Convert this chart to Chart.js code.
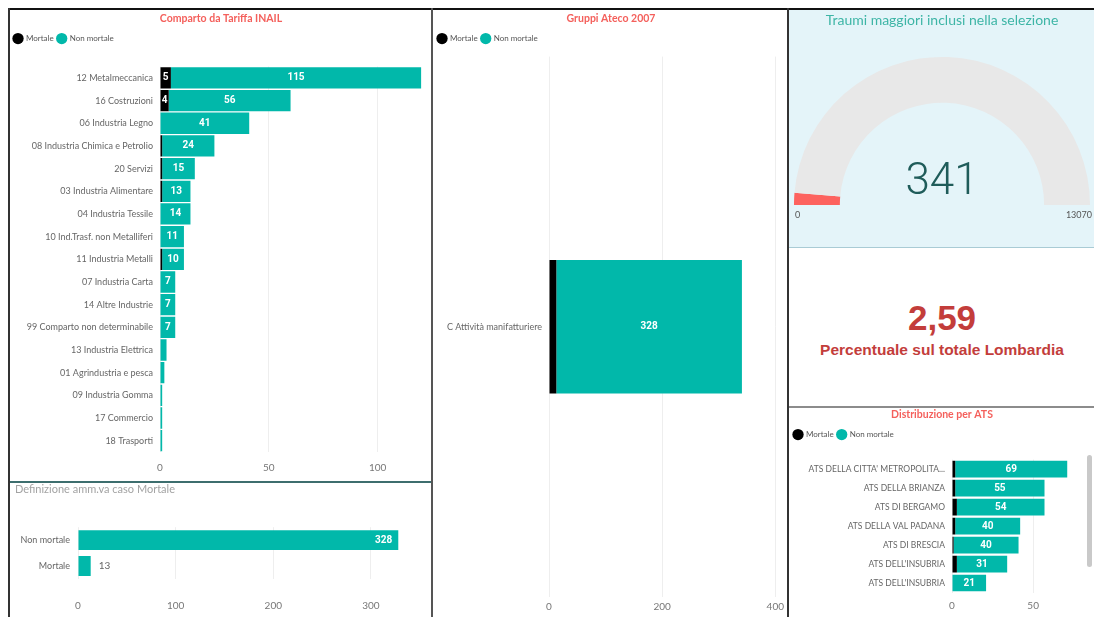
<!DOCTYPE html>
<html>
<head>
<meta charset="utf-8">
<script src="https://cdn.jsdelivr.net/npm/chart.js@4.4.1/dist/chart.umd.min.js"></script>
<style>
  body { margin:0; background:#fff; width:1094px; height:617px; overflow:hidden; position:relative; font-family: Lato, 'Open Sans', sans-serif; }
  .box { position:absolute; }
  .line { position:absolute; }
  #kpi { position:absolute; left:790px; top:249px; width:304px; height:157px; text-align:center; font-family:'Liberation Sans', Arial, sans-serif; font-weight:bold; color:#c33d3b; }
  #kpiValue { position:absolute; left:0; width:100%; top:51px; font-size:35px; line-height:36px; }
  #kpiLabel { position:absolute; left:0; width:100%; top:92px; font-size:15.5px; line-height:18px; }
</style>
</head>
<body>
<div class="line" style="left:789px;top:10px;width:305px;height:238px;background:#e4f4f9"></div>
<div class="line" style="left:789px;top:247px;width:305px;height:1px;background:#a9cbd5"></div>

<div class="box" style="left:10px;top:10px;width:422px;height:472px"><canvas id="inailChart"></canvas></div>
<div class="box" style="left:10px;top:483px;width:422px;height:134px"><canvas id="defChart"></canvas></div>
<div class="box" style="left:434px;top:10px;width:354px;height:607px"><canvas id="atecoChart"></canvas></div>
<div class="box" style="left:790px;top:10px;width:304px;height:238px"><canvas id="gaugeChart"></canvas></div>
<div class="box" style="left:790px;top:408px;width:304px;height:209px"><canvas id="atsChart"></canvas></div>

<div id="kpi"><div id="kpiValue"></div><div id="kpiLabel"></div></div>

<div class="line" style="left:9px;top:8px;width:1085px;height:2px;background:#111"></div>
<div class="line" style="left:8px;top:8px;width:2px;height:609px;background:#333"></div>
<div class="line" style="left:431px;top:8px;width:2px;height:609px;background:#555"></div>
<div class="line" style="left:787px;top:8px;width:2px;height:609px;background:#333"></div>
<div class="line" style="left:10px;top:481px;width:421px;height:2px;background:#3d6e6e"></div>
<div class="line" style="left:789px;top:406px;width:305px;height:2px;background:#8c8c8c"></div>
<div class="line" style="left:1087px;top:455px;width:5px;height:112px;background:#c9c9c9;border-radius:3px"></div>

<script>
// --- data ---
const legendNames = ['Mortale', 'Non mortale'];

const inailCats = ['12 Metalmeccanica', '16 Costruzioni', '06 Industria Legno', '08 Industria Chimica e Petrolio',
  '20 Servizi', '03 Industria Alimentare', '04 Industria Tessile', '10 Ind.Trasf. non Metalliferi',
  '11 Industria Metalli', '07 Industria Carta', '14 Altre Industrie', '99 Comparto non determinabile',
  '13 Industria Elettrica', '01 Agrindustria e pesca', '09 Industria Gomma', '17 Commercio', '18 Trasporti'];
const inailMortale    = [5, 4, 0, 1, 1, 1, 0, 0, 1, 0, 0, 0, 0, 0, 0, 0, 0];
const inailNonMortale = [115, 56, 41, 24, 15, 13, 14, 11, 10, 7, 7, 7, 3, 2, 1, 1, 1];
const inailTicks = [0, 50, 100];

const defCats = ['Non mortale', 'Mortale'];
const defValues = [328, 13];
const defTicks = [0, 100, 200, 300];

const atecoCats = ['C Attività manifatturiere'];
const atecoMortale = [13];
const atecoNonMortale = [328];
const atecoTicks = [0, 200, 400];

const atsCats = ["ATS DELLA CITTA' METROPOLITA...", 'ATS DELLA BRIANZA', 'ATS DI BERGAMO', 'ATS DELLA VAL PADANA',
  'ATS DI BRESCIA', "ATS DELL'INSUBRIA", "ATS DELL'INSUBRIA"];
const atsMortale    = [2, 2, 3, 2, 1, 3, 0];
const atsNonMortale = [69, 55, 54, 40, 40, 31, 21];
const atsTicks = [0, 50];

const gaugeValue = 341;
const gaugeMax = 13070;

const kpiValue = '2,59';
const kpiLabel = 'Percentuale sul totale Lombardia';

const TEAL = '#01b8aa';
const RED = '#f4605c';

Chart.defaults.font.family = "Lato, 'Open Sans', sans-serif";
Chart.defaults.animation = false;
Chart.defaults.plugins.tooltip.enabled = false;

// white value labels inside bars (like PBI data labels)
const barLabels = {
  id: 'barLabels',
  afterDatasetsDraw(chart, args, opts) {
    if (!opts.mode) return;
    const ctx = chart.ctx;
    ctx.save();
    ctx.textBaseline = 'middle';
    chart.data.datasets.forEach((ds, di) => {
      const meta = chart.getDatasetMeta(di);
      meta.data.forEach((bar, i) => {
        const v = ds.data[i];
        if (!v) return;
        const txt = String(v);
        ctx.font = "bold 10px Roboto, Lato, sans-serif";
        const tw = ctx.measureText(txt).width;
        const w = Math.abs(bar.x - bar.base);
        if (w >= tw + 2) {
          ctx.fillStyle = '#fff';
          ctx.textAlign = 'center';
          const x = opts.mode === 'end' ? bar.x - 6 - tw / 2 : (bar.x + bar.base) / 2;
          ctx.fillText(txt, x, bar.y);
        } else if (opts.mode === 'end') {
          ctx.font = "10px Lato, sans-serif";
          ctx.fillStyle = '#666';
          ctx.textAlign = 'left';
          ctx.fillText(txt, bar.x + 8, bar.y);
        }
      });
    });
    ctx.restore();
  }
};

// extra space under the legend
const legendGap = {
  id: 'legendGap',
  beforeLayout(chart, args, opts) {
    const lg = chart.legend;
    if (!lg || lg._gapPatched) return;
    const fit = lg.fit;
    lg.fit = function () { fit.call(this); this.height += (chart.options.plugins.legendGap.gap || 0); };
    lg._gapPatched = true;
  }
};
Chart.register(barLabels, legendGap);

function fixedTicks(values) {
  return s => { s.ticks = values.map(v => ({ value: v })); };
}

function stackedBars(id, cats, mort, nonMort, o) {
  return new Chart(document.getElementById(id), {
    type: 'bar',
    data: {
      labels: cats,
      datasets: [
        { label: legendNames[0], data: mort, backgroundColor: '#000', barPercentage: o.barPct, categoryPercentage: 1 },
        { label: legendNames[1], data: nonMort, backgroundColor: TEAL, barPercentage: o.barPct, categoryPercentage: 1 }
      ]
    },
    options: {
      indexAxis: 'y',
      responsive: true,
      maintainAspectRatio: false,
      layout: { padding: 0 },
      scales: {
        x: {
          stacked: true, min: 0, max: o.max,
          grid: { color: '#eeeeee', drawTicks: false },
          border: { display: false },
          ticks: { color: '#777', font: { size: 10 }, padding: o.xPad },
          afterBuildTicks: fixedTicks(o.ticks),
          afterFit: s => { s.height = o.xHeight; }
        },
        y: {
          stacked: true,
          grid: { display: false, drawTicks: false },
          border: { display: false },
          ticks: { color: '#666', font: { size: o.catSize }, padding: 7, autoSkip: false },
          afterFit: s => { s.width = o.yWidth; }
        }
      },
      plugins: {
        title: { display: true, text: o.title, color: RED, font: { size: 10.5, weight: 'bold' }, padding: o.titlePad },
        legend: {
          display: true, position: 'top', align: 'start',
          labels: { usePointStyle: true, pointStyle: 'circle', color: '#555', font: { size: 8 }, padding: 4, boxWidth: 8 }
        },
        legendGap: { gap: o.gap },
        barLabels: { mode: 'center' }
      }
    }
  });
}

stackedBars('inailChart', inailCats, inailMortale, inailNonMortale, {
  title: 'Comparto da Tariffa INAIL', max: 125, ticks: inailTicks, barPct: 0.94, catSize: 9,
  titlePad: { top: 2, bottom: 6 }, gap: 14, xPad: 10, xHeight: 30, yWidth: 150
});

stackedBars('atecoChart', atecoCats, atecoMortale, atecoNonMortale, {
  title: 'Gruppi Ateco 2007', max: 419, ticks: atecoTicks, barPct: 0.247, catSize: 9,
  titlePad: { top: 2, bottom: 6 }, gap: 4, xPad: 4, xHeight: 20, yWidth: 115
});

stackedBars('atsChart', atsCats, atsMortale, atsNonMortale, {
  title: 'Distribuzione per ATS', max: 87.5, ticks: atsTicks, barPct: 0.88, catSize: 8.5,
  titlePad: { top: 0, bottom: 6 }, gap: 11, xPad: 7.5, xHeight: 24.5, yWidth: 162
});

// Definizione amm.va caso Mortale
new Chart(document.getElementById('defChart'), {
  type: 'bar',
  data: {
    labels: defCats,
    datasets: [{ label: 'Casi', data: defValues, backgroundColor: TEAL, barPercentage: 0.77, categoryPercentage: 1 }]
  },
  options: {
    indexAxis: 'y',
    responsive: true,
    maintainAspectRatio: false,
    layout: { padding: { left: 5, right: 22, top: 0, bottom: 0 } },
    scales: {
      x: {
        min: 0, max: 340,
        grid: { color: '#eeeeee', drawTicks: false },
        border: { display: false },
        ticks: { color: '#777', font: { size: 10 }, padding: 21 },
        afterBuildTicks: fixedTicks(defTicks),
        afterFit: s => { s.height = 38; }
      },
      y: {
        grid: { display: false, drawTicks: false },
        border: { display: false },
        ticks: { color: '#666', font: { size: 9 }, padding: 8 },
        afterFit: s => { s.width = 63; }
      }
    },
    plugins: {
      title: { display: true, text: 'Definizione amm.va caso Mortale', align: 'start', color: '#a3a3a3',
               font: { size: 11, weight: 'normal' }, padding: { top: 0, bottom: 31 } },
      legend: { display: false },
      barLabels: { mode: 'end' }
    }
  }
});

// gauge
const gaugeText = {
  id: 'gaugeText',
  afterDraw(chart) {
    const ctx = chart.ctx;
    const arc = chart.getDatasetMeta(0).data[0];
    const cx = arc.x, cy = arc.y, r = arc.outerRadius;
    ctx.save();
    ctx.fillStyle = '#1f5c5a';
    ctx.textAlign = 'center';
    ctx.textBaseline = 'middle';
    ctx.font = "300 44px Roboto, Lato, sans-serif";
    ctx.fillText(String(gaugeValue), cx, cy - 22);
    ctx.font = "9px Lato, sans-serif";
    ctx.fillStyle = '#555';
    ctx.textAlign = 'left';
    ctx.fillText('0', cx - r + 1, cy + 10);
    ctx.textAlign = 'right';
    ctx.fillText(String(gaugeMax), cx + r + 2, cy + 10);
    ctx.restore();
  }
};

new Chart(document.getElementById('gaugeChart'), {
  type: 'doughnut',
  data: {
    labels: ['Valore', 'Resto'],
    datasets: [{ data: [gaugeValue, gaugeMax - gaugeValue], backgroundColor: ['#fd625e', '#e8e8e8'], borderWidth: 0, hoverOffset: 0 }]
  },
  options: {
    responsive: true,
    maintainAspectRatio: false,
    rotation: -90,
    circumference: 180,
    cutout: '69%',
    layout: { padding: { left: 4, right: 4, top: 0, bottom: 43 } },
    plugins: {
      title: { display: true, text: 'Traumi maggiori inclusi nella selezione', color: '#3db5a6',
               font: { size: 14, weight: 'normal' }, padding: { top: 2, bottom: 28 } },
      legend: { display: false },
      barLabels: false,
      legendGap: false
    }
  },
  plugins: [gaugeText]
});

document.getElementById('kpiValue').textContent = kpiValue;
document.getElementById('kpiLabel').textContent = kpiLabel;
</script>
</body>
</html>
